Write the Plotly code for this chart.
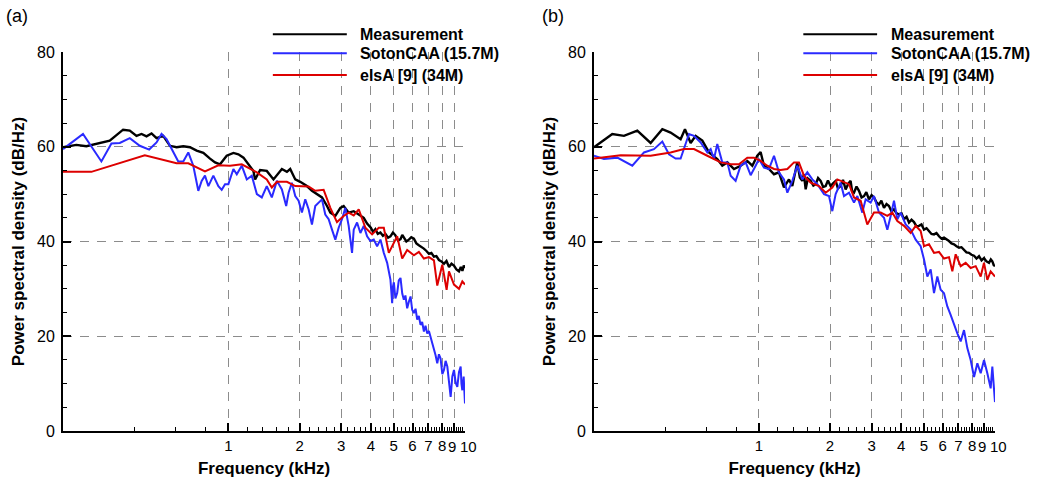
import math
import plotly.graph_objects as go

# ---------------- data (frequency in kHz, PSD in dB/Hz) ----------------
# Panel (a)
fa_meas = [0.200, 0.2277, 0.2511, 0.2859, 0.3152, 0.3589, 0.3831, 0.4089, 0.4294, 0.4508,
           0.4733, 0.4970, 0.5304, 0.5661, 0.6041, 0.6447, 0.6881, 0.7343, 0.7837, 0.8363,
           0.8781, 0.9219, 0.9838, 1.050, 1.102, 1.158, 1.215, 1.276, 1.297, 1.362,
           1.453, 1.551, 1.683, 1.767, 1.825, 1.917, 2.012, 2.147, 2.255, 2.367,
           2.486, 2.611, 2.697, 2.831, 2.973, 3.071, 3.224, 3.386, 3.555, 3.733,
           3.857, 4.0, 4.09, 4.18, 4.28, 4.39, 4.50, 4.61, 4.73, 4.84,
           4.96, 5.08, 5.21, 5.34, 5.43, 5.52, 5.65, 5.79, 5.93, 6.08,
           6.23, 6.38, 6.54, 6.70, 6.87, 7.04, 7.21, 7.39, 7.57, 7.76,
           7.95, 8.15, 8.35, 8.56, 8.77, 8.98, 9.20, 9.43, 9.60, 9.75,
           9.88, 10.0]
pa_meas = [59.9, 60.4, 60.1, 60.8, 61.3, 63.6, 63.4, 62.3, 62.7, 62.2,
           62.8, 61.8, 62.3, 60.2, 59.9, 60.1, 59.9, 59.2, 58.7, 57.5,
           56.7, 56.3, 58.1, 58.7, 58.4, 57.7, 56.3, 54.9, 53.1, 55.1,
           54.9, 53.1, 55.3, 54.7, 55.3, 53.1, 52.6, 51.7, 50.7, 50.0,
           49.3, 47.5, 46.1, 45.4, 47.1, 47.5, 46.1, 46.4, 45.7, 45.0,
           43.8, 42.9, 42.0, 42.6, 41.6, 41.9, 41.2, 41.6, 40.8, 41.1,
           41.9, 41.3, 40.2, 40.5, 41.4, 40.9, 40.0, 40.4, 40.9, 40.6,
           39.6, 39.2, 38.9, 38.5, 38.0, 37.4, 37.6, 36.8, 36.9, 36.1,
           35.8, 35.3, 35.9, 34.6, 35.3, 34.9, 34.1, 33.7, 34.6, 33.8,
           34.9, 34.4]

fa_soton = [0.200, 0.2430, 0.2906, 0.3204, 0.3475, 0.3831, 0.4222, 0.4626, 0.4970, 0.5218,
            0.5479, 0.5847, 0.6140, 0.6447, 0.6769, 0.7107, 0.7463, 0.7709, 0.7963, 0.8229,
            0.8638, 0.9071, 0.9371, 0.9681, 1.0, 1.050, 1.085, 1.139, 1.196, 1.256,
            1.319, 1.384, 1.453, 1.526, 1.603, 1.683, 1.755, 1.796, 1.855, 1.917,
            1.980, 2.045, 2.113, 2.183, 2.255, 2.329, 2.407, 2.486, 2.568, 2.653,
            2.741, 2.831, 2.925, 3.021, 3.121, 3.224, 3.331, 3.386, 3.498, 3.614,
            3.733, 3.857, 3.984, 4.115, 4.251, 4.392, 4.538, 4.688, 4.842, 4.88,
            4.922, 4.96, 5.004, 5.08, 5.168, 5.25, 5.339, 5.43, 5.515, 5.60,
            5.697, 5.79, 5.886, 5.98, 6.080, 6.18, 6.281, 6.38, 6.487, 6.59,
            6.704, 6.81, 6.925, 7.04, 7.154, 7.27, 7.391, 7.51, 7.634, 7.76,
            7.886, 8.02, 8.149, 8.28, 8.419, 8.55, 8.697, 8.84, 8.984, 9.13,
            9.280, 9.43, 9.586, 9.66, 9.743, 9.87, 10.0]
pa_soton = [59.5, 62.7, 56.9, 60.7, 60.8, 61.8, 60.2, 59.4, 60.9, 62.7,
            61.6, 58.8, 56.9, 56.9, 58.8, 56.0, 50.7, 52.8, 53.9, 51.7,
            53.9, 51.7, 50.9, 52.1, 52.1, 55.3, 54.2, 56.0, 53.1, 53.9,
            50.0, 49.3, 51.7, 49.3, 52.8, 51.0, 47.5, 50.3, 52.4, 49.6,
            48.6, 46.1, 48.9, 46.8, 43.6, 47.5, 48.2, 48.9, 45.7, 44.7,
            42.5, 40.4, 42.9, 44.7, 47.1, 43.3, 37.6, 42.5, 44.0, 41.8,
            43.3, 41.1, 40.1, 40.4, 39.0, 40.4, 37.6, 35.5, 31.9, 28.5,
            27.0, 30.5, 31.4, 28.0, 29.1, 31.8, 32.3, 29.0, 27.7, 28.6,
            25.9, 27.3, 28.4, 25.6, 24.9, 25.8, 23.5, 24.3, 22.4, 23.0,
            21.0, 22.2, 20.6, 21.1, 19.9, 18.3, 17.1, 16.0, 14.3, 16.2,
            15.3, 12.0, 12.9, 14.8, 13.6, 10.4, 7.2, 11.5, 12.9, 10.2,
            9.3, 12.4, 13.6, 10.0, 8.6, 11.5, 5.8]

fa_elsa = [0.200, 0.2636, 0.4434, 0.6041, 0.6769, 0.7963, 0.9071, 1.016, 1.139, 1.319,
           1.453, 1.526, 1.603, 1.767, 1.917, 2.183, 2.329, 2.445, 2.527, 2.697,
           2.877, 3.071, 3.224, 3.386, 3.555, 3.794, 4.049, 4.321, 4.538, 4.764,
           5.168, 5.427, 5.697, 6.080, 6.384, 6.704, 7.039, 7.391, 7.634, 8.017,
           8.362, 8.556, 8.984, 9.432, 9.743, 10.0]
pa_elsa = [54.7, 54.7, 58.2, 56.5, 56.5, 54.8, 56.1, 56.0, 56.3, 54.6,
           53.1, 51.4, 52.6, 52.6, 51.7, 51.6, 50.7, 50.9, 50.9, 47.1,
           44.1, 45.4, 46.1, 45.5, 46.8, 42.9, 41.5, 42.9, 42.9, 37.6,
           41.1, 36.4, 38.2, 37.1, 37.8, 36.4, 36.7, 36.0, 30.7, 35.1,
           29.8, 33.7, 30.9, 30.0, 31.6, 30.9]

# Panel (b)
fb_meas = [0.200, 0.2133, 0.2391, 0.2679, 0.3051, 0.3475, 0.3895, 0.4222, 0.4656, 0.4858,
           0.5134, 0.5391, 0.5754, 0.6140, 0.6659, 0.6991, 0.7343, 0.7837, 0.8363, 0.8924,
           0.9371, 0.9838, 1.016, 1.050, 1.102, 1.158, 1.215, 1.276, 1.340, 1.384,
           1.453, 1.49, 1.526, 1.55, 1.577, 1.61, 1.655, 1.70, 1.739, 1.78,
           1.825, 1.87, 1.917, 1.96, 2.012, 2.06, 2.113, 2.16, 2.218, 2.27,
           2.329, 2.39, 2.445, 2.48, 2.527, 2.59, 2.653, 2.72, 2.786, 2.85,
           2.925, 3.00, 3.071, 3.15, 3.224, 3.30, 3.386, 3.47, 3.555, 3.64,
           3.733, 3.82, 3.919, 4.02, 4.115, 4.22, 4.321, 4.43, 4.538, 4.65,
           4.764, 4.88, 5.004, 5.13, 5.253, 5.38, 5.515, 5.65, 5.791, 5.93,
           6.080, 6.23, 6.384, 6.54, 6.704, 6.87, 7.039, 7.21, 7.391, 7.57,
           7.760, 7.95, 8.149, 8.35, 8.556, 8.77, 8.984, 9.20, 9.432, 9.60,
           9.743, 9.88, 10.0]
pb_meas = [59.9, 60.9, 62.7, 62.3, 63.4, 60.8, 63.7, 63.0, 61.6, 63.7,
           60.8, 62.3, 61.3, 58.8, 57.4, 56.0, 56.7, 55.3, 56.0, 57.0,
           56.0, 58.1, 58.9, 56.0, 55.3, 54.2, 54.6, 51.4, 53.1, 51.7,
           56.7, 53.5, 52.8, 54.2, 51.0, 53.3, 52.8, 51.8, 52.1, 53.4,
           52.8, 51.5, 51.7, 52.9, 51.7, 52.3, 52.8, 51.2, 51.7, 53.0,
           51.0, 52.2, 52.8, 50.6, 50.3, 51.6, 50.7, 49.3, 49.6, 50.4,
           48.9, 49.8, 49.3, 48.2, 47.8, 48.6, 47.1, 47.9, 47.5, 46.4,
           46.8, 46.0, 45.7, 45.9, 44.7, 45.2, 44.0, 44.6, 44.1, 43.2,
           43.3, 43.6, 42.5, 42.8, 42.2, 41.6, 41.5, 41.8, 41.1, 40.6,
           40.8, 40.5, 40.1, 39.6, 39.4, 39.0, 38.7, 38.8, 38.3, 37.7,
           37.6, 37.2, 37.0, 36.4, 36.9, 36.0, 36.5, 35.8, 35.5, 36.2,
           35.8, 35.0, 34.8]

fb_soton = [0.200, 0.2204, 0.2511, 0.2906, 0.3257, 0.3589, 0.3895, 0.4155, 0.4434, 0.4656,
            0.5051, 0.5304, 0.5661, 0.6041, 0.6241, 0.6447, 0.6659, 0.6991, 0.7343, 0.7585,
            0.7963, 0.8363, 0.8781, 0.9219, 0.9681, 1.0, 1.050, 1.102, 1.158, 1.215,
            1.276, 1.319, 1.384, 1.453, 1.526, 1.603, 1.683, 1.767, 1.886, 1.980,
            2.045, 2.113, 2.218, 2.292, 2.407, 2.527, 2.611, 2.741, 2.831, 2.973,
            3.071, 3.224, 3.386, 3.498, 3.614, 3.733, 3.857, 3.984, 4.183, 4.392,
            4.612, 4.842, 5.004, 5.168, 5.339, 5.515, 5.697, 5.886, 6.080, 6.281,
            6.487, 6.704, 6.925, 7.154, 7.391, 7.634, 7.886, 8.149, 8.419, 8.697,
            8.984, 9.280, 9.586, 9.743, 10.0]
pb_soton = [58.1, 57.4, 57.7, 56.0, 58.8, 59.5, 61.1, 58.4, 57.5, 57.5,
            62.7, 62.3, 60.9, 58.8, 59.5, 57.4, 60.6, 56.7, 56.7, 53.9,
            52.8, 56.0, 56.7, 54.0, 56.0, 57.4, 55.6, 55.3, 58.1, 54.6,
            53.1, 50.3, 52.8, 56.0, 53.1, 54.6, 53.1, 52.1, 50.0, 49.6,
            46.4, 50.0, 52.4, 49.6, 50.3, 48.2, 49.6, 46.1, 48.9, 48.2,
            49.6, 46.1, 45.0, 42.5, 45.4, 48.6, 44.7, 46.1, 43.6, 42.5,
            40.4, 39.0, 36.2, 32.6, 34.1, 29.1, 32.6, 29.8, 29.1, 26.3,
            24.5, 22.4, 20.6, 18.9, 21.3, 17.5, 15.0, 11.4, 14.3, 12.2,
            15.0, 12.2, 9.0, 13.6, 6.1]

fb_elsa = [0.200, 0.2594, 0.3475, 0.4222, 0.4811, 0.5304, 0.6041, 0.6881, 0.7585, 0.8229,
           0.8924, 0.9524, 1.016, 1.085, 1.158, 1.235, 1.319, 1.407, 1.477, 1.551,
           1.655, 1.796, 1.917, 2.045, 2.147, 2.255, 2.407, 2.527, 2.697, 2.877,
           3.071, 3.278, 3.498, 3.673, 3.857, 4.115, 4.392, 4.612, 4.842, 5.004,
           5.253, 5.515, 5.791, 6.080, 6.384, 6.595, 6.814, 7.154, 7.511, 7.886,
           8.284, 8.697, 8.984, 9.280, 9.586, 10.0]
pb_elsa = [57.5, 58.2, 58.1, 58.8, 59.5, 59.5, 58.1, 56.7, 56.3, 56.3,
           57.7, 57.7, 57.0, 56.0, 55.3, 55.1, 55.3, 56.7, 56.7, 53.9,
           52.4, 51.7, 50.3, 51.4, 53.1, 52.6, 52.1, 49.3, 48.6, 43.6,
           46.1, 46.1, 45.4, 46.1, 44.3, 43.3, 41.8, 43.3, 42.2, 39.0,
           39.4, 37.6, 37.8, 36.4, 36.7, 33.7, 37.3, 34.8, 35.5, 34.4,
           34.8, 32.6, 35.5, 31.9, 33.7, 32.6]

series_names = ["Measurement", "SotonCAA (15.7M)", "elsA [9] (34M)"]
series_colors = ["#000000", "#2a2aff", "#dd0000"]
panel_labels = ["(a)", "(b)"]

x_major = [1, 2, 3, 4, 5, 6, 7, 8, 9, 10]
x_major_text = ["1", "2", "3", "4", "5", "6", "7", "8", "9", "10"]
x_minor = [0.4, 0.6, 0.8] + [round(i * 0.2, 1) for i in range(6, 50) if (i * 2) % 10 != 0]
y_major = [0, 20, 40, 60, 80]
y_minor = [v for v in range(5, 80, 5) if v % 20 != 0]

# the last two labels ("9", "10") sit very close together; they are placed as
# annotations nudged apart so that they touch but do not overlap
n_axis_labels = 8
close_label_shift = {9: -2, 10: 3}

# ---------------- figure ----------------
FONT = "Liberation Sans, Arial, sans-serif"
TICKSIZE = 15
fig = go.Figure()

panels = [
    ("x", "y", [(fa_meas, pa_meas), (fa_soton, pa_soton), (fa_elsa, pa_elsa)]),
    ("x2", "y2", [(fb_meas, pb_meas), (fb_soton, pb_soton), (fb_elsa, pb_elsa)]),
]
widths = [2.4, 2.0, 2.0]
for xa, ya, data in panels:
    for (fx, py), name, col, w in zip(data, series_names, series_colors, widths):
        fig.add_trace(go.Scatter(x=fx, y=py, mode="lines", name=name,
                                 line=dict(color=col, width=w),
                                 xaxis=xa, yaxis=ya, showlegend=False))

GRID = dict(showgrid=True, gridcolor="#8c8c8c", gridwidth=1.1, griddash="9px,8px")

axis_ticktext = x_major_text[:n_axis_labels] + [""] * (len(x_major) - n_axis_labels)


def xaxis_cfg(domain, anchor):
    return dict(domain=domain, anchor=anchor, type="log", automargin=False,
                range=[math.log10(0.2), 1.0],
                tickmode="array", tickvals=x_major, ticktext=axis_ticktext,
                tickangle=0,
                ticks="inside", ticklen=8, tickwidth=1.5, tickcolor="black",
                showline=True, linecolor="black", linewidth=2,
                zeroline=False, **GRID,
                minor=dict(tickmode="array", tickvals=x_minor, ticks="inside",
                           ticklen=4, tickwidth=1, tickcolor="black", showgrid=False),
                tickfont=dict(family=FONT, size=TICKSIZE, color="black"),
                title=dict(text="Frequency (kHz)", standoff=9,
                           font=dict(family=FONT, size=17, color="black", weight="bold")))


def yaxis_cfg(domain, anchor):
    return dict(domain=domain, anchor=anchor, range=[0, 80], automargin=False,
                tickmode="array", tickvals=y_major,
                ticks="inside", ticklen=8, tickwidth=1.5, tickcolor="black",
                showline=True, linecolor="black", linewidth=2,
                zeroline=False, **GRID,
                minor=dict(tickmode="array", tickvals=y_minor, ticks="inside",
                           ticklen=4, tickwidth=1, tickcolor="black", showgrid=False),
                tickfont=dict(family=FONT, size=16, color="black"),
                ticklabelstandoff=3,
                title=dict(text="Power spectral density (dB/Hz)", standoff=8,
                           font=dict(family=FONT, size=17, color="black", weight="bold")))


ydom = [1 - 431 / 482, 1 - 52 / 482]
fig.update_layout(
    width=1040, height=482,
    margin=dict(l=0, r=0, t=0, b=0, autoexpand=False),
    paper_bgcolor="white", plot_bgcolor="white",
    showlegend=False,
    xaxis=xaxis_cfg([63 / 1040, 465 / 1040], "y"),
    yaxis=yaxis_cfg(ydom, "x"),
    xaxis2=xaxis_cfg([594 / 1040, 995 / 1040], "y2"),
    yaxis2=yaxis_cfg(ydom, "x2"),
)

# close-together tick labels 9 and 10
for xa in ["x", "x2"]:
    for val, txt in zip(x_major[n_axis_labels:], x_major_text[n_axis_labels:]):
        fig.add_annotation(xref=xa, yref="paper", x=math.log10(val), y=1 - 446 / 482,
                           text=txt, showarrow=False, xanchor="center", yanchor="middle",
                           xshift=close_label_shift[val], borderpad=0,
                           font=dict(family=FONT, size=TICKSIZE, color="black"))

# ---------------- legends and panel labels ----------------
leg_y = [1.047, 0.997, 0.939]
for xref, yref in [("x domain", "y domain"), ("x2 domain", "y2 domain")]:
    for name, col, yy in zip(series_names, series_colors, leg_y):
        fig.add_shape(type="line", xref=xref, yref=yref, x0=0.522, x1=0.706,
                      y0=yy, y1=yy, line=dict(color=col, width=2))
        fig.add_annotation(xref=xref, yref=yref, x=0.735, y=yy, text=name,
                           showarrow=False, xanchor="left", yanchor="middle",
                           font=dict(family=FONT, size=16, color="black", weight="bold"))

for lbl, px in zip(panel_labels, [4, 540]):
    fig.add_annotation(xref="paper", yref="paper", x=px / 1040, y=1 - 16 / 482,
                       text=lbl, showarrow=False, xanchor="left", yanchor="middle",
                       font=dict(family=FONT, size=18, color="black"))

fig.write_html("out.html")
